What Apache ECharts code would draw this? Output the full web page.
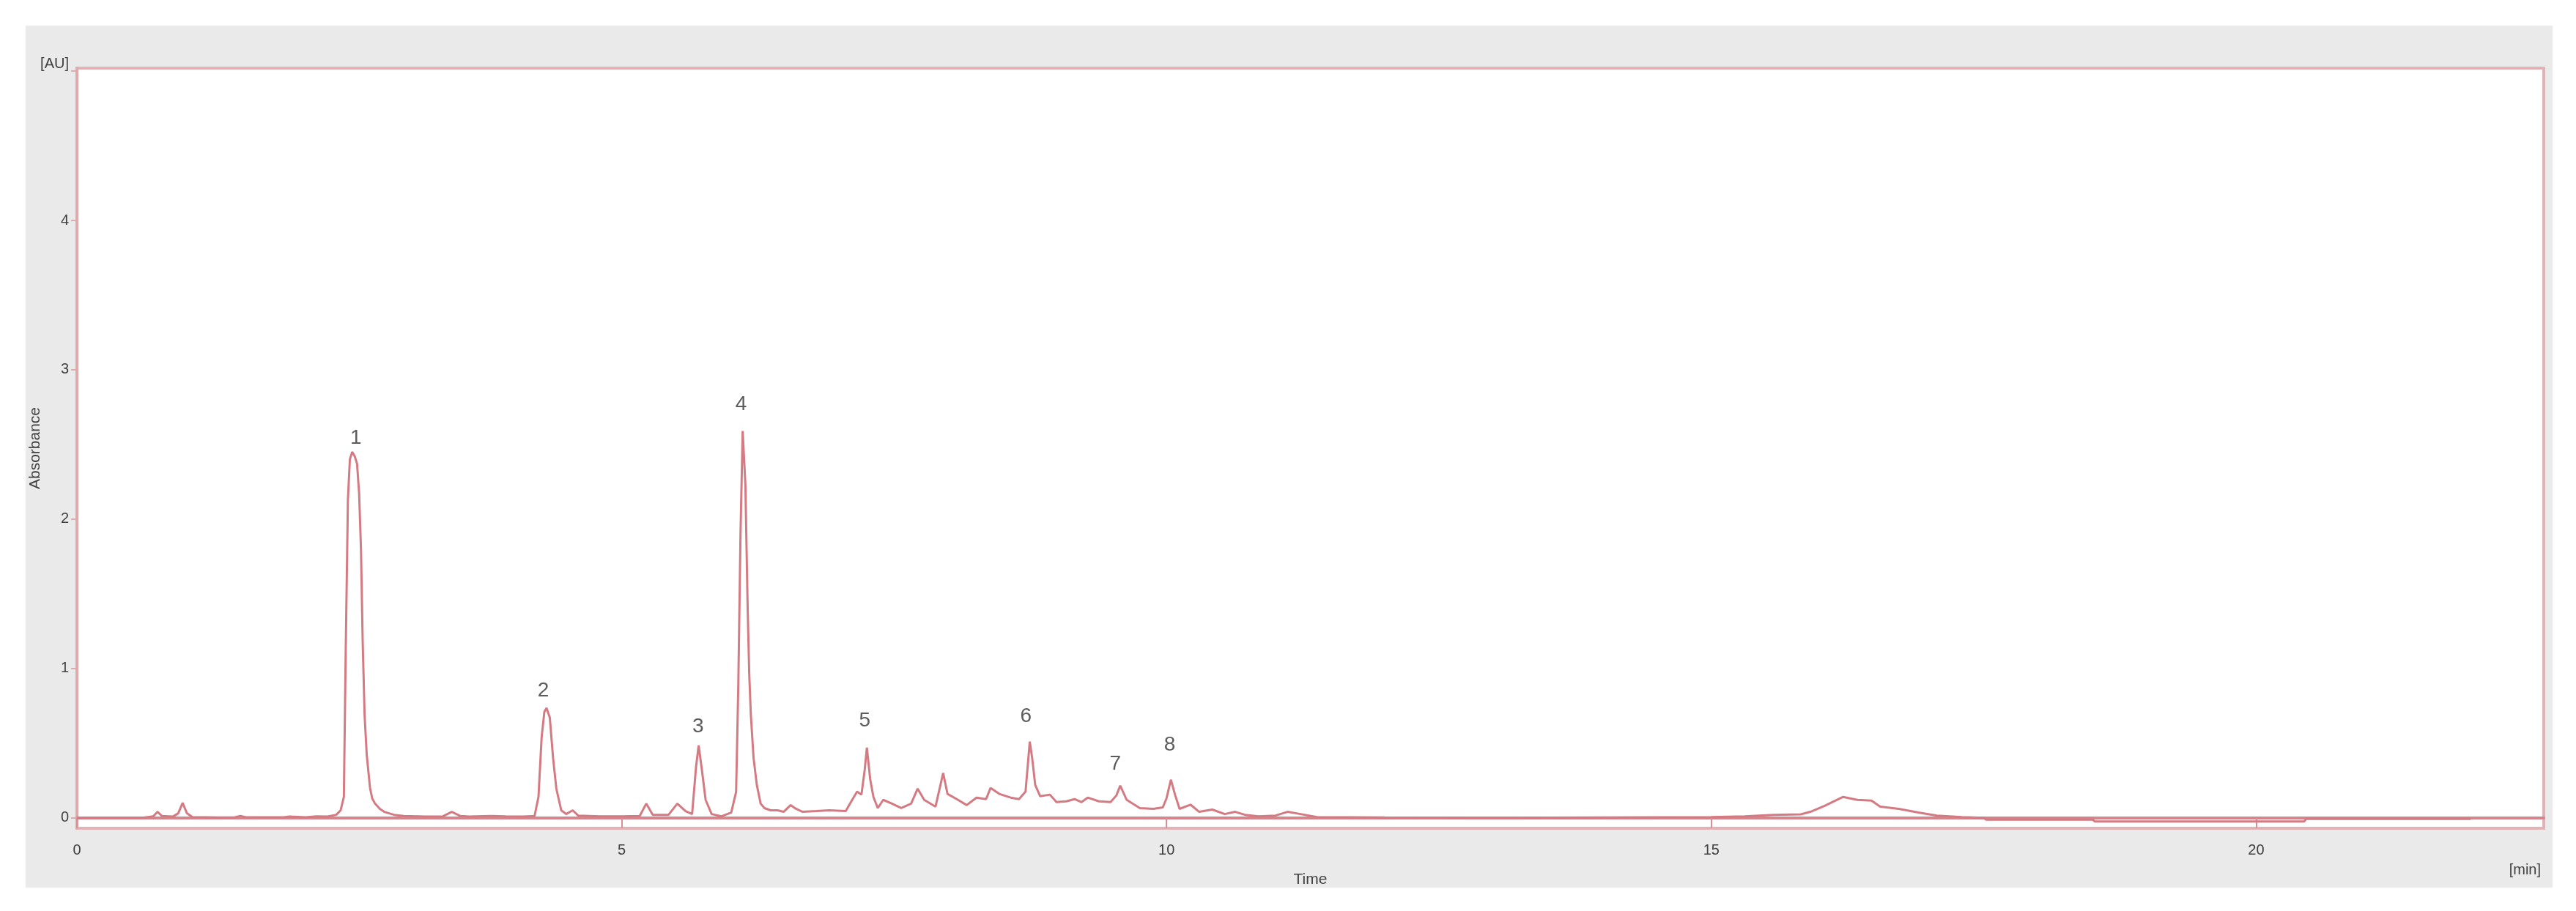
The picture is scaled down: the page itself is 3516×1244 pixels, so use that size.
<!DOCTYPE html>
<html>
<head>
<meta charset="utf-8">
<script src="https://cdn.jsdelivr.net/npm/echarts@6/dist/echarts.min.js"></script>
<style>
  html, body { margin: 0; padding: 0; background: #fff; }
  #chromatogram { width: 3516px; height: 1244px; }
</style>
</head>
<body>
<div id="chromatogram"></div>
<script>
// retention time [min] and absorbance [AU]
var times = [
  0.00, 0.60, 0.70, 0.74, 0.78, 0.88, 0.93, 0.97, 1.01, 1.06, 1.30, 1.45, 1.50, 1.56, 1.90, 1.95,
  2.10, 2.20, 2.30, 2.38, 2.42, 2.45, 2.466, 2.487, 2.505, 2.526, 2.55, 2.571, 2.59, 2.607, 2.622, 2.64,
  2.66, 2.69, 2.71, 2.736, 2.78, 2.82, 2.91, 3.00, 3.20, 3.36, 3.44, 3.52, 3.60, 3.80, 3.93, 4.10,
  4.20, 4.236, 4.265, 4.29, 4.31, 4.34, 4.37, 4.40, 4.445, 4.49, 4.55, 4.60, 4.80, 5.00, 5.165, 5.225,
  5.285, 5.43, 5.51, 5.586, 5.646, 5.682, 5.706, 5.736, 5.77, 5.825, 5.916, 6.005, 6.05, 6.07, 6.09, 6.11,
  6.135, 6.156, 6.17, 6.185, 6.21, 6.24, 6.275, 6.31, 6.366, 6.43, 6.486, 6.55, 6.60, 6.66, 6.785, 6.905,
  7.056, 7.115, 7.16, 7.20, 7.23, 7.25, 7.28, 7.31, 7.35, 7.40, 7.48, 7.565, 7.656, 7.716, 7.776, 7.88,
  7.95, 7.99, 8.075, 8.166, 8.256, 8.344, 8.385, 8.465, 8.57, 8.646, 8.706, 8.73, 8.745, 8.767, 8.795, 8.84,
  8.93, 8.99, 9.08, 9.156, 9.22, 9.277, 9.38, 9.487, 9.54, 9.575, 9.635, 9.755, 9.88, 9.966, 10.00, 10.04,
  10.08, 10.12, 10.22, 10.30, 10.42, 10.535, 10.63, 10.72, 10.845, 11.00, 11.11, 11.23, 11.38, 12.00, 13.00, 15.00,
  15.31, 15.57, 15.82, 15.91, 16.04, 16.21, 16.34, 16.47, 16.55, 16.72, 16.90, 17.07, 17.30, 17.50, 17.52, 18.50,
  18.52, 20.44, 20.46, 21.97
];
var absorbance = [
  0.000, 0.000, 0.010, 0.040, 0.012, 0.008, 0.030, 0.100, 0.030, 0.005, 0.002, 0.004, 0.012, 0.003, 0.004, 0.008,
  0.004, 0.010, 0.008, 0.020, 0.050, 0.140, 1.070, 2.130, 2.400, 2.450, 2.420, 2.370, 2.170, 1.800, 1.200, 0.690,
  0.420, 0.200, 0.130, 0.095, 0.060, 0.040, 0.020, 0.012, 0.008, 0.010, 0.040, 0.012, 0.008, 0.012, 0.010, 0.008,
  0.012, 0.140, 0.540, 0.710, 0.735, 0.670, 0.400, 0.195, 0.050, 0.025, 0.050, 0.015, 0.010, 0.010, 0.012, 0.095,
  0.020, 0.020, 0.095, 0.045, 0.025, 0.340, 0.485, 0.320, 0.120, 0.025, 0.010, 0.035, 0.175, 0.890, 1.890, 2.590,
  2.230, 1.400, 0.970, 0.690, 0.400, 0.220, 0.095, 0.065, 0.050, 0.050, 0.040, 0.085, 0.060, 0.040, 0.045, 0.050,
  0.045, 0.120, 0.175, 0.155, 0.320, 0.470, 0.260, 0.140, 0.065, 0.120, 0.095, 0.065, 0.095, 0.195, 0.120, 0.075,
  0.300, 0.160, 0.125, 0.085, 0.135, 0.125, 0.200, 0.160, 0.135, 0.125, 0.175, 0.380, 0.510, 0.400, 0.220, 0.145,
  0.155, 0.105, 0.110, 0.125, 0.105, 0.135, 0.110, 0.105, 0.150, 0.215, 0.120, 0.065, 0.060, 0.070, 0.130, 0.255,
  0.150, 0.060, 0.088, 0.040, 0.055, 0.025, 0.040, 0.020, 0.010, 0.015, 0.040, 0.025, 0.005, 0.002, 0.000, 0.005,
  0.010, 0.020, 0.023, 0.040, 0.080, 0.140, 0.120, 0.115, 0.075, 0.060, 0.035, 0.015, 0.005, 0.000, -0.012, -0.012,
  -0.025, -0.025, -0.008, -0.008
];

// peak numbers and where their labels sit (time, AU)
var peakNames = ['1', '2', '3', '4', '5', '6', '7', '8'];
var peakLabelTime = [2.56, 4.28, 5.70, 6.095, 7.23, 8.71, 9.53, 10.03];
var peakLabelAU = [2.54, 0.85, 0.61, 2.77, 0.65, 0.68, 0.36, 0.49];

var xTicks = [0, 5, 10, 15, 20];
var yTicks = [0, 1, 2, 3, 4, 5];

var trace = times.map(function (t, i) { return [t, absorbance[i]]; });
var peaks = peakNames.map(function (n, i) { return { name: n, value: [peakLabelTime[i], peakLabelAU[i]] }; });

var chart = echarts.init(document.getElementById('chromatogram'));
var txt = '#404040';

chart.setOption({
  animation: false,
  backgroundColor: '#ffffff',
  textStyle: { fontFamily: 'Liberation Sans' },
  graphic: [
    { type: 'rect', z: -100, shape: { x: 35, y: 35, width: 3449, height: 1177 },
      style: { fill: '#eaeaea', stroke: '#f2f2f2', lineWidth: 1 } },
    { type: 'text', right: 48, top: 1178,
      style: { text: '[min]', fill: txt, font: '20px "Liberation Sans"' } }
  ],
  grid: {
    left: 105, right: 44, top: 93, bottom: 113,
    show: true, backgroundColor: '#ffffff',
    borderColor: '#e2b3b6', borderWidth: 4
  },
  xAxis: {
    type: 'value', min: 0, max: 22.64,
    name: 'Time', nameLocation: 'middle', nameGap: 60,
    nameTextStyle: { color: txt, fontSize: 21 },
    axisLine: { lineStyle: { color: '#d4868c', width: 4 } },
    axisTick: { customValues: xTicks, length: 14, lineStyle: { color: '#d98e94', width: 2 } },
    axisLabel: { customValues: xTicks, color: txt, fontSize: 20, margin: 20 },
    splitLine: { show: false }
  },
  yAxis: {
    type: 'value', min: -0.07, max: 5.02,
    name: 'Absorbance', nameLocation: 'middle', nameGap: 46, nameRotate: 90,
    nameMoveOverlap: false,
    nameTextStyle: { color: txt, fontSize: 21 },
    axisLine: { lineStyle: { color: '#e0a9ad', width: 4 } },
    axisTick: { customValues: yTicks, length: 8, lineStyle: { color: '#e0a9ad', width: 2 } },
    axisLabel: {
      customValues: yTicks, color: txt, fontSize: 20, margin: 11,
      formatter: function (v) { return v === 5 ? '{au|[AU]}' : String(v); },
      rich: { au: { color: txt, fontSize: 20, padding: [0, 0, 20, 0] } }
    },
    splitLine: { show: false }
  },
  series: [
    {
      type: 'line',
      data: trace,
      showSymbol: false,
      symbol: 'none',
      lineStyle: { color: '#d47a82', width: 3 },
      z: 3
    },
    {
      type: 'scatter',
      data: peaks,
      symbolSize: 1,
      itemStyle: { color: 'rgba(0,0,0,0)' },
      label: {
        show: true, position: 'inside', formatter: '{b}',
        color: '#333', fontSize: 28
      },
      z: 4
    }
  ]
});

window.addEventListener('resize', function () {
  chart.resize();
});
</script>
</body>
</html>
